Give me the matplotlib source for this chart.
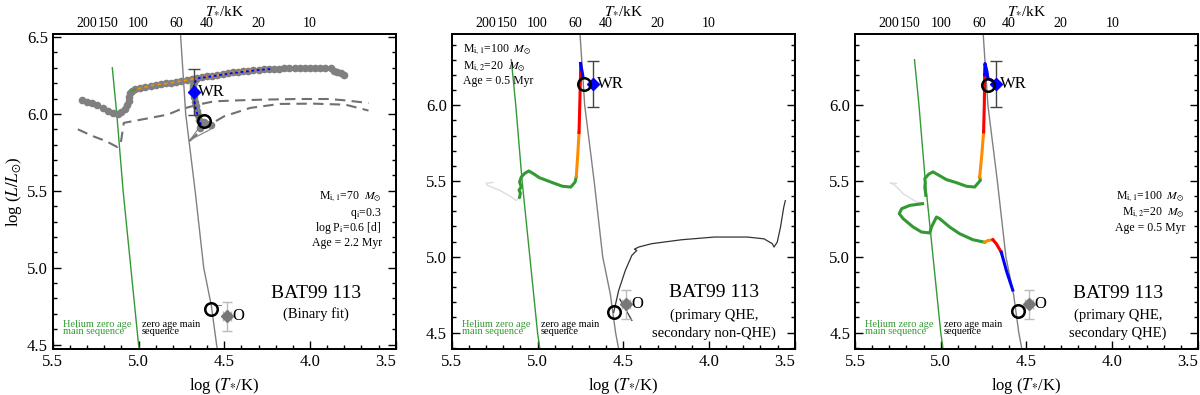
import numpy as np
import matplotlib.pyplot as plt
from matplotlib.ticker import MultipleLocator

plt.rcParams['font.family'] = ['Liberation Serif', 'DejaVu Serif']
plt.rcParams['mathtext.fontset'] = 'stix'

# reference lines (log T, log L)
hezams_T = [5.153, 5.127, 5.09, 5.045, 5.0, 4.985]
hezams_L = [6.30, 6.0, 5.5, 5.0, 4.5, 4.38]
zams_T = [4.76, 4.725, 4.67, 4.62, 4.575, 4.545, 4.52]
zams_L = [6.60, 6.0, 5.5, 5.0, 4.75, 4.5, 4.35]

xticks = [5.5, 5.0, 4.5, 4.0, 3.5]
top_kK = [200, 150, 100, 60, 40, 20, 10]

# observed positions
wr_T, wr_L, wr_Lerr = 4.675, 6.14, 0.15
o_T, o_L, o_Lerr, o_Terr = 4.485, 4.685, 0.095, 0.025

# ---- panel 1: binary fit ----
track_T = [3.80, 3.82, 3.84, 3.86, 3.88, 3.91, 3.94, 3.97, 4.00, 4.03, 4.06,
           4.09, 4.12, 4.15, 4.18, 4.21, 4.24, 4.27, 4.30, 4.33, 4.36, 4.39,
           4.42, 4.45, 4.48, 4.51, 4.54, 4.57, 4.60, 4.63, 4.66, 4.69, 4.72,
           4.75, 4.78, 4.81, 4.84, 4.87, 4.90, 4.93, 4.96, 4.99, 5.02, 5.04,
           5.05, 5.053, 5.057, 5.065, 5.08, 5.10, 5.12, 5.15, 5.18, 5.21, 5.24,
           5.27, 5.30, 5.33]
track_L = [6.255, 6.265, 6.27, 6.28, 6.30, 6.30, 6.30, 6.30, 6.30, 6.30, 6.30,
           6.298, 6.297, 6.296, 6.295, 6.294, 6.293, 6.29, 6.287, 6.285, 6.282, 6.28,
           6.275, 6.272, 6.268, 6.262, 6.25, 6.247, 6.244, 6.24, 6.232, 6.227, 6.22,
           6.214, 6.21, 6.204, 6.20, 6.195, 6.19, 6.183, 6.176, 6.168, 6.16, 6.15,
           6.135, 6.11, 6.085, 6.06, 6.035, 6.01, 6.00, 6.005, 6.02, 6.04, 6.06,
           6.07, 6.08, 6.09]
branch_T = [4.58, 4.60, 4.62, 4.64, 4.635, 4.645, 4.655, 4.66, 4.665, 4.67,
            4.675, 4.68, 4.68, 4.68, 4.675, 4.665]
branch_L = [5.93, 5.935, 5.945, 5.91, 5.93, 5.96, 5.99, 6.02, 6.05, 6.08,
            6.11, 6.14, 6.17, 6.19, 6.21, 6.225]

orange1_T = [5.04, 5.02, 4.98, 4.94, 4.90, 4.86, 4.82, 4.78, 4.74, 4.70, 4.66,
             4.62, 4.58, 4.54, 4.50, 4.46, 4.42, 4.38, 4.33, 4.28, 4.25]
orange1_L = [6.15, 6.16, 6.17, 6.18, 6.19, 6.195, 6.20, 6.21, 6.215, 6.225, 6.232,
             6.24, 6.245, 6.25, 6.26, 6.27, 6.275, 6.28, 6.285, 6.29, 6.292]
blue1_T = [4.635, 4.65, 4.66, 4.67, 4.675, 4.68, 4.68, 4.675, 4.655, 4.60, 4.54,
           4.46, 4.38, 4.30, 4.23]
blue1_L = [5.93, 5.97, 6.01, 6.05, 6.09, 6.13, 6.17, 6.20, 6.232, 6.24, 6.25,
           6.265, 6.275, 6.286, 6.292]

dashA_T = [5.354, 5.268, 5.191, 5.125, 5.105, 5.096, 5.086, 4.98, 4.828, 4.76,
           4.655, 4.559, 4.425, 4.272, 4.08, 3.89, 3.793, 3.659]
dashA_L = [5.90, 5.856, 5.824, 5.785, 5.80, 5.867, 5.942, 5.964, 5.996, 6.028,
           6.06, 6.082, 6.088, 6.093, 6.097, 6.097, 6.088, 6.071]
dashB_T = [4.703, 4.617, 4.50, 4.349, 4.176, 3.985, 3.793, 3.659]
dashB_L = [5.824, 5.91, 5.985, 6.039, 6.065, 6.067, 6.06, 6.022]
thin1_T = [4.62, 4.70, 4.58]
thin1_L = [5.95, 5.83, 5.90]

circ1_T = [4.617, 4.579]
circ1_L = [5.953, 4.733]

# ---- panel 2: primary QHE, secondary non-QHE ----
green2_T = [5.105, 5.10, 5.108, 5.095, 5.105, 5.095, 5.075, 5.051, 5.02, 4.99,
            4.913, 4.855, 4.806, 4.781, 4.774]
green2_L = [5.39, 5.42, 5.44, 5.46, 5.493, 5.526, 5.55, 5.566, 5.545, 5.522,
            5.489, 5.465, 5.46, 5.493, 5.53]
orange2_T = [4.774, 4.765, 4.758]
orange2_L = [5.53, 5.68, 5.82]
red2_T = [4.758, 4.753, 4.749, 4.749]
red2_L = [5.82, 6.033, 6.22, 6.275]
blue2_T = [4.749, 4.74, 4.735]
blue2_L = [6.275, 6.22, 6.187]
lgray2_T = [5.26, 5.30, 5.29, 5.22, 5.16, 5.124, 5.11]
lgray2_L = [5.49, 5.485, 5.47, 5.438, 5.40, 5.371, 5.39]
sec2_T = [4.556, 4.527, 4.488, 4.45, 4.421, 4.435, 4.41, 4.335, 4.161, 3.968,
          3.776, 3.679, 3.631, 3.621, 3.602, 3.583, 3.564, 3.555]
sec2_L = [4.633, 4.777, 4.91, 5.009, 5.042, 5.05, 5.064, 5.086, 5.112, 5.13,
          5.13, 5.118, 5.086, 5.064, 5.097, 5.196, 5.328, 5.37]
cross2_T = [4.52, 4.45]
cross2_L = [4.72, 4.58]
circ2_T = [4.729, 4.556]
circ2_L = [6.137, 4.633]

# ---- panel 3: primary QHE, secondary QHE ----
green3a_T = [5.087, 5.093, 5.09, 5.093, 5.07, 5.045, 4.967, 4.909, 4.85, 4.802, 4.769, 4.773]
green3a_L = [5.405, 5.46, 5.49, 5.515, 5.545, 5.56, 5.509, 5.489, 5.465, 5.46, 5.504, 5.526]
orange3a_T = [4.773, 4.76, 4.75]
orange3a_L = [5.526, 5.68, 5.824]
red3a_T = [4.75, 4.746, 4.744, 4.744]
red3a_L = [5.824, 6.0, 6.165, 6.20]
blue3a_T = [4.744, 4.742, 4.73, 4.725, 4.705]
blue3a_L = [6.20, 6.275, 6.22, 6.176, 6.165]
lgray3_T = [5.258, 5.296, 5.27, 5.219, 5.141, 5.106]
lgray3_L = [5.483, 5.487, 5.475, 5.416, 5.361, 5.355]
green3b_T = [5.106, 5.18, 5.228, 5.242, 5.219, 5.161, 5.112, 5.064, 5.054, 5.025,
             5.006, 4.948, 4.89, 4.812, 4.744]
green3b_L = [5.35, 5.339, 5.317, 5.284, 5.251, 5.196, 5.163, 5.157, 5.196, 5.262,
             5.251, 5.196, 5.152, 5.112, 5.096]
orange3b_T = [4.744, 4.725, 4.696]
orange3b_L = [5.096, 5.107, 5.112]
red3b_T = [4.696, 4.676, 4.647]
red3b_L = [5.112, 5.086, 5.03]
blue3b_T = [4.647, 4.615, 4.58]
blue3b_L = [5.03, 4.90, 4.78]
circ3_T = [4.725, 4.55]
circ3_L = [6.13, 4.64]

green = '#339933'

fig = plt.figure(figsize=(12, 3.95), dpi=100)
lefts = [0.044, 0.3765, 0.7125]
axes = [fig.add_axes([l, 0.116, 0.2858, 0.798]) for l in lefts]
ylims = [(4.47, 6.52), (4.39, 6.47), (4.39, 6.47)]

for ax, yl in zip(axes, ylims):
    ax.plot(hezams_T, hezams_L, color=green, lw=1, zorder=2)
    ax.plot(zams_T, zams_L, color='#808080', lw=1, zorder=2)
    ax.errorbar(wr_T, wr_L, yerr=wr_Lerr, fmt='none', ecolor='#444444',
                elinewidth=1, capsize=4, zorder=5)
    ax.plot(wr_T, wr_L, 'D', color='blue', ms=6, zorder=8)
    ax.text(wr_T - 0.022, wr_L, 'WR', fontsize=12, va='center', ha='left', zorder=9)
    ax.errorbar(o_T, o_L, xerr=o_Terr, yerr=o_Lerr, fmt='none', ecolor='#bbbbbb',
                elinewidth=1, capsize=3.5, zorder=5)
    ax.plot(o_T, o_L, 'D', color='#777777', ms=6, zorder=8)
    ax.text(o_T - 0.03, o_L, 'O', fontsize=12, va='center', ha='left')
    ax.text(0.029, 0.067, 'Helium zero age\nmain sequence', transform=ax.transAxes,
            color=green, fontsize=7.5, va='center', ha='left', linespacing=0.8)
    ax.text(0.259, 0.067, 'zero age main\nsequence', transform=ax.transAxes,
            fontsize=7.5, va='center', ha='left', linespacing=0.8)

    ax.set_xlim(5.5, 3.5)
    ax.set_ylim(*yl)
    ax.set_xticks(xticks)
    ax.set_xticklabels(['%.1f' % t for t in xticks])
    # last label sits inside the frame, as in the paper figure
    ax.get_xticklabels()[-1].set_horizontalalignment('right')
    ax.xaxis.set_minor_locator(MultipleLocator(0.1))
    ax.yaxis.set_major_locator(MultipleLocator(0.5))
    ax.yaxis.set_minor_locator(MultipleLocator(0.1))
    ax.yaxis.set_major_formatter(plt.FormatStrFormatter('%.1f'))
    ax.tick_params(which='both', direction='in', left=True, right=True,
                   bottom=True, top=False, labelsize=12, width=1)
    ax.tick_params(which='major', length=6)
    ax.tick_params(which='minor', length=3)
    for s in ax.spines.values():
        s.set_linewidth(1.3)
    ax.set_xlabel('log ($T_{*}$/K)', fontsize=12, labelpad=4)

    top = ax.twiny()
    top.set_xlim(ax.get_xlim())
    top.set_xticks(np.log10(np.array(top_kK) * 1000.0))
    top.set_xticklabels([str(t) for t in top_kK])
    top.tick_params(axis='x', length=0, pad=3, labelsize=10)
    top.set_xlabel('$T_{*}$/kK', fontsize=11, labelpad=2)
    for s in top.spines.values():
        s.set_linewidth(1.3)

axes[0].set_ylabel('log ($L/L_{\\odot}$)', fontsize=12, labelpad=2)

# panel 1
ax = axes[0]
ax.plot(dashA_T, dashA_L, color='#707070', lw=1.5, ls=(0, (5, 3)), zorder=3)
ax.plot(dashB_T, dashB_L, color='#707070', lw=1.5, ls=(0, (5, 3)), zorder=3)
ax.plot(thin1_T, thin1_L, color='#808080', lw=0.8, zorder=3)
ax.plot(track_T, track_L, 'o', color='#808080', ms=5.5, mew=0, zorder=4)
ax.plot(branch_T, branch_L, 'o', color='#808080', ms=5.5, mew=0, zorder=4)
ax.plot(orange1_T, orange1_L, color='darkorange', lw=1.2, ls=(0, (2, 2)), zorder=6)
ax.plot(orange1_T[:2], orange1_L[:2], color=green, lw=1.2, zorder=6)
ax.plot(blue1_T, blue1_L, color='blue', lw=1.3, ls=(0, (1.5, 1.5)), zorder=6)
ax.plot(circ1_T, circ1_L, 'o', mfc='none', mec='black', ms=9, mew=1.8, zorder=9)
ax.plot([4.56, 4.52], [4.76, 4.76], color='#808080', lw=0.8)
ax.text(0.959, 0.483, 'M$_{\\rm i,1}$=70  $M_{\\odot}$', transform=ax.transAxes,
        ha='right', va='center', fontsize=8.5)
ax.text(0.959, 0.432, 'q$_{\\rm i}$=0.3', transform=ax.transAxes,
        ha='right', va='center', fontsize=8.5)
ax.text(0.959, 0.384, 'log P$_{\\rm i}$=0.6 [d]', transform=ax.transAxes,
        ha='right', va='center', fontsize=8.5)
ax.text(0.959, 0.337, 'Age = 2.2 Myr', transform=ax.transAxes,
        ha='right', va='center', fontsize=8.5)
ax.text(0.767, 0.178, 'BAT99 113', transform=ax.transAxes, ha='center',
        va='center', fontsize=14)
ax.text(0.767, 0.111, '(Binary fit)', transform=ax.transAxes, ha='center',
        va='center', fontsize=10.5)

# panel 2
ax = axes[1]
ax.plot(lgray2_T, lgray2_L, color='#dddddd', lw=1, zorder=3)
ax.plot(sec2_T, sec2_L, color='#333333', lw=0.9, zorder=3)
ax.plot(cross2_T, cross2_L, color='#333333', lw=0.9, zorder=3)
ax.plot(green2_T, green2_L, color=green, lw=2.2, zorder=4, solid_capstyle='round')
ax.plot(orange2_T, orange2_L, color='darkorange', lw=2.2, zorder=4)
ax.plot(red2_T, red2_L, color='red', lw=2.2, zorder=4)
ax.plot(blue2_T, blue2_L, color='blue', lw=2.2, zorder=4)
ax.plot(circ2_T, circ2_L, 'o', mfc='none', mec='black', ms=9, mew=1.8, zorder=9)
ax.text(0.032, 0.949, 'M$_{\\rm i,1}$=100  $M_{\\odot}$', transform=ax.transAxes,
        ha='left', va='center', fontsize=8.5)
ax.text(0.032, 0.895, 'M$_{\\rm i,2}$=20  $M_{\\odot}$', transform=ax.transAxes,
        ha='left', va='center', fontsize=8.5)
ax.text(0.032, 0.851, 'Age = 0.5 Myr', transform=ax.transAxes,
        ha='left', va='center', fontsize=8.5)
ax.text(0.765, 0.179, 'BAT99 113', transform=ax.transAxes, ha='center',
        va='center', fontsize=14)
ax.text(0.765, 0.108, '(primary QHE,', transform=ax.transAxes, ha='center',
        va='center', fontsize=10.5)
ax.text(0.765, 0.051, 'secondary non-QHE)', transform=ax.transAxes, ha='center',
        va='center', fontsize=10.5)

# panel 3
ax = axes[2]
ax.plot(lgray3_T, lgray3_L, color='#dddddd', lw=1, zorder=3)
ax.plot(green3a_T, green3a_L, color=green, lw=2.2, zorder=4)
ax.plot(orange3a_T, orange3a_L, color='darkorange', lw=2.2, zorder=4)
ax.plot(red3a_T, red3a_L, color='red', lw=2.2, zorder=4)
ax.plot(blue3a_T, blue3a_L, color='blue', lw=2.2, zorder=4)
ax.plot(green3b_T, green3b_L, color=green, lw=2.2, zorder=4)
ax.plot(orange3b_T, orange3b_L, color='darkorange', lw=2.2, zorder=4)
ax.plot(red3b_T, red3b_L, color='red', lw=2.2, zorder=4)
ax.plot(blue3b_T, blue3b_L, color='blue', lw=2.2, zorder=4)
ax.plot(circ3_T, circ3_L, 'o', mfc='none', mec='black', ms=9, mew=1.8, zorder=9)
ax.text(0.962, 0.483, 'M$_{\\rm i,1}$=100  $M_{\\odot}$', transform=ax.transAxes,
        ha='right', va='center', fontsize=8.5)
ax.text(0.962, 0.432, 'M$_{\\rm i,2}$=20  $M_{\\odot}$', transform=ax.transAxes,
        ha='right', va='center', fontsize=8.5)
ax.text(0.962, 0.384, 'Age = 0.5 Myr', transform=ax.transAxes,
        ha='right', va='center', fontsize=8.5)
ax.text(0.767, 0.178, 'BAT99 113', transform=ax.transAxes, ha='center',
        va='center', fontsize=14)
ax.text(0.767, 0.108, '(primary QHE,', transform=ax.transAxes, ha='center',
        va='center', fontsize=10.5)
ax.text(0.767, 0.051, 'secondary QHE)', transform=ax.transAxes, ha='center',
        va='center', fontsize=10.5)

fig.savefig('out.png', dpi=100)
